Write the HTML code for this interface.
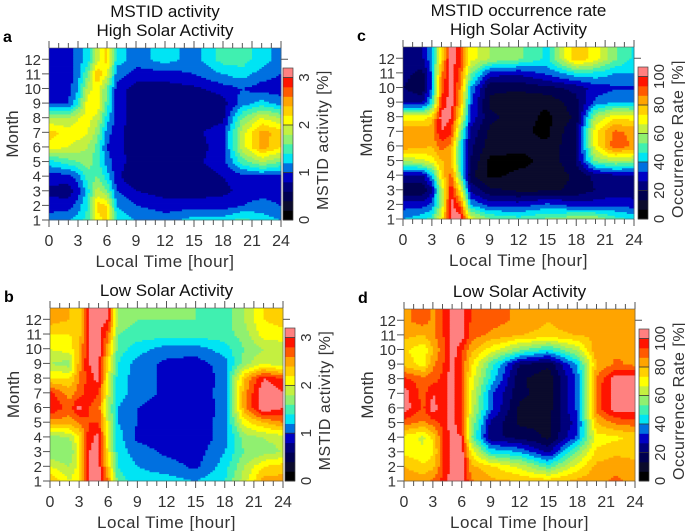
<!DOCTYPE html>
<html><head><meta charset="utf-8">
<style>
html,body{margin:0;padding:0;background:#fff;}
svg{display:block;font-family:"Liberation Sans",sans-serif;}
</style></head>
<body>
<svg id="fig" width="685" height="531" viewBox="0 0 685 531" xmlns="http://www.w3.org/2000/svg"></svg>
<script>
// ---- data ----
const hours = [0,2,3,4,5,6,7,9,12,15,18,20,22,24];
const months = [1,2,3,4,5,6,7,8,9,10,11,12];
const xTickLabels = ['0','3','6','9','12','15','18','21','24'];
const yTickLabels = ['1','2','3','4','5','6','7','8','9','10','11','12'];
const activityTicks = ['0','1','2','3'];
const rateTicks = ['0','20','40','60','80','100'];
// rows: month 1..12
const actHigh = [
[1.1,1.2,1.3,1.5,2.1,2.3,1.4,1.2,1.1,1.3,1.3,1.5,1.3,1.2],
[0.9,0.9,1.1,1.4,2.3,2.2,1.2,1.0,0.9,0.9,0.9,1.0,1.1,1.0],
[0.75,0.7,0.9,1.3,1.9,1.6,1.0,0.8,0.7,0.7,0.75,0.85,0.9,0.9],
[0.9,0.9,1.1,1.5,1.6,1.3,0.85,0.6,0.7,0.7,0.8,0.9,0.95,0.9],
[1.3,1.5,1.6,1.7,1.5,1.1,0.9,0.7,0.7,0.75,0.9,1.5,1.8,1.6],
[2.1,2.0,1.9,1.8,1.5,1.0,0.85,0.7,0.7,0.7,0.9,1.9,2.5,2.2],
[2.3,2.1,2.1,2.0,1.7,1.1,0.85,0.7,0.7,0.75,0.9,1.9,2.5,2.3],
[1.8,1.8,2.0,2.1,1.9,1.3,0.9,0.7,0.7,0.7,0.75,1.6,2.0,1.8],
[0.95,1.0,1.4,2.1,2.2,1.5,0.9,0.7,0.7,0.6,0.7,1.1,1.3,1.1],
[0.9,0.9,1.2,1.9,2.1,1.6,0.9,0.7,0.7,0.75,0.9,1.0,0.9,0.9],
[0.9,0.9,1.1,1.6,2.4,2.0,1.1,0.9,0.9,1.0,1.2,1.3,1.1,1.0],
[0.9,0.9,1.1,1.3,1.9,2.3,1.3,1.1,1.3,1.1,1.5,1.5,1.3,1.1]];
const actLow = [
[2.4,2.0,2.2,3.0,3.1,2.6,1.5,1.3,1.3,1.2,1.4,1.9,2.5,2.5],
[2.0,1.8,2.1,3.0,3.1,2.3,1.4,1.2,1.1,0.95,1.3,1.8,2.2,2.3],
[1.6,1.6,2.1,3.0,3.1,2.1,1.3,1.1,0.95,0.9,1.2,1.6,1.7,1.8],
[1.7,1.8,2.2,2.9,3.1,2.0,1.3,0.95,0.9,0.85,1.1,1.7,1.8,1.9],
[2.5,2.5,2.6,2.8,2.8,1.9,1.2,1.0,0.9,0.85,1.1,2.1,2.4,2.6],
[3.0,2.7,3.1,2.8,2.7,1.8,1.2,1.0,0.9,0.8,1.1,2.5,3.2,3.0],
[2.9,2.5,2.7,2.9,2.8,1.9,1.3,1.1,0.95,0.85,1.1,2.5,3.2,3.0],
[2.2,2.2,2.6,2.9,3.1,2.0,1.3,1.1,0.95,0.8,1.1,2.4,3.0,2.8],
[1.8,1.7,2.5,3.0,3.1,2.2,1.4,1.1,0.95,0.9,1.1,1.7,2.0,1.8],
[2.0,2.1,2.4,3.0,3.1,2.4,1.5,1.3,1.1,1.1,1.3,1.6,1.8,1.9],
[2.2,2.2,2.3,3.0,3.1,2.7,1.6,1.5,1.5,1.5,1.5,1.7,2.1,2.1],
[2.5,2.4,2.2,3.1,3.1,3.0,1.7,1.6,1.6,1.6,1.5,1.8,2.2,2.3]];
const rateHigh = [
[40,45,50,70,104,104,70,55,50,55,60,60,50,45],
[30,30,35,60,104,90,40,30,30,35,30,30,32,30],
[15,15,25,60,100,70,25,15,12,12,15,20,22,22],
[25,25,40,75,90,50,15,5,8,8,15,22,25,25],
[60,65,70,80,80,45,20,5,5,8,20,55,60,58],
[85,82,80,90,85,45,22,10,8,8,20,70,92,85],
[85,85,85,100,95,55,25,12,8,5,20,72,88,85],
[70,70,75,104,100,70,32,15,10,5,15,60,72,70],
[25,25,45,95,104,80,35,12,8,8,18,35,40,40],
[20,15,35,90,104,85,40,15,15,18,22,30,32,32],
[22,18,35,85,104,90,55,30,28,35,45,45,40,40],
[25,25,40,75,104,95,70,60,55,45,80,70,55,45]];
const rateLow = [
[85,85,88,95,104,104,88,82,80,78,82,85,88,85],
[80,75,78,92,104,104,82,75,65,50,70,82,85,82],
[72,68,72,92,104,104,72,45,40,25,55,75,78,78],
[70,65,75,92,104,100,55,22,18,12,35,70,72,75],
[90,85,90,95,104,92,60,25,12,12,30,80,88,90],
[104,92,104,95,104,92,65,35,12,10,35,90,104,104],
[104,90,100,95,104,92,68,35,15,10,35,90,104,104],
[95,90,90,95,104,92,70,45,15,8,35,88,104,104],
[78,70,85,92,104,92,75,50,20,15,40,80,88,85],
[75,68,80,90,104,95,82,70,55,45,62,85,85,85],
[82,80,85,92,104,104,90,85,80,78,80,82,85,82],
[85,90,85,92,104,104,92,90,85,80,85,82,82,85]];

const bandColors = ['#000000','#0b0b2c','#000050','#00007c','#0000c4','#0070e0','#00e4f4','#40f0b0','#90f070','#c4f040','#ffff00','#ffd000','#ffa400','#ff5a00','#ff1400','#ff8080'];

const NS='http://www.w3.org/2000/svg';
const svg=document.getElementById('fig');
function el(tag,attrs,parent,text){const e=document.createElementNS(NS,tag);for(const k in attrs)e.setAttribute(k,attrs[k]);if(text!==undefined)e.textContent=text;(parent||svg).appendChild(e);return e;}

function interp(grid,h,m){
  let mm=Math.min(12,Math.max(1,m));
  let r0=Math.floor(mm)-1; if(r0>=11)r0=10; const fr=mm-1-r0;
  let c0=0; while(c0<hours.length-2 && h>hours[c0+1]) c0++;
  const fc=(h-hours[c0])/(hours[c0+1]-hours[c0]);
  const a=grid[r0][c0]*(1-fc)+grid[r0][c0+1]*fc;
  const b=grid[r0+1][c0]*(1-fc)+grid[r0+1][c0+1]*fc;
  return a*(1-fr)+b*fr;
}

const panels=[
 {id:'a',grid:actHigh,step:0.2,x0:49,x1:281,yT:48,yB:220,cbX:283,cbT:68,title1:'MSTID activity',title2:'High Solar Activity',cbLabel:'MSTID activity  [%]',ticks:activityTicks,tickStep:1},
 {id:'c',grid:rateHigh,step:100/15,x0:403,x1:634,yT:47,yB:219,cbX:638,cbT:67,title1:'MSTID occurrence rate',title2:'High Solar Activity',cbLabel:'Occurrence Rate  [%]',ticks:rateTicks,tickStep:20},
 {id:'b',grid:actLow,step:0.2,x0:50,x1:283,yT:308,yB:481,cbX:285,cbT:328,title1:null,title2:'Low Solar Activity',cbLabel:'MSTID activity  [%]',ticks:activityTicks,tickStep:1},
 {id:'d',grid:rateLow,step:100/15,x0:404,x1:635,yT:309,yB:481,cbX:639,cbT:329,title1:null,title2:'Low Solar Activity',cbLabel:'Occurrence Rate  [%]',ticks:rateTicks,tickStep:20}
];

panels.forEach(p=>{
  const g=el('g',{});
  const mTop=12.77;
  const xs=h=>p.x0+(p.x1-p.x0)*h/24;
  const ys=m=>p.yB-(p.yB-p.yT)*(m-1)/(mTop-1);
  const band=v=>Math.max(0,Math.min(15,Math.floor(v/p.step)));
  const heat=el('g',{},g);
  const nx=96, dm=0.125;
  for(let m=1;m<mTop;m+=dm){
    const yTop=ys(Math.min(mTop,m+dm)), yBot=ys(m);
    let runStart=0, runBand=band(interp(p.grid,0.125,m+dm/2));
    for(let i=1;i<=nx;i++){
      const b=i<nx?band(interp(p.grid,(i+0.5)*24/nx,m+dm/2)):-1;
      if(b!==runBand){
        const r=el('rect',{x:xs(runStart*24/nx).toFixed(2),y:yTop.toFixed(2),width:(xs(i*24/nx)-xs(runStart*24/nx)+0.4).toFixed(2),height:(yBot-yTop+0.4).toFixed(2),fill:bandColors[runBand]},heat);
        
        
        runStart=i; runBand=b;
      }
    }
  }
  el('rect',{x:p.x0,y:p.yT,width:p.x1-p.x0,height:p.yB-p.yT,fill:'none',stroke:'#555','stroke-width':0.6,},g);
  const ax=el('g',{stroke:'#555','stroke-width':1,},g);
  for(let h=0;h<=24;h++){
    const x=xs(h), len=(h%3===0)?7:5;
    el('line',{x1:x,y1:p.yB,x2:x,y2:p.yB+len},ax);
    el('line',{x1:x,y1:p.yT,x2:x,y2:p.yT-len},ax);
  }
  months.forEach(m=>{const y=ys(m);el('line',{x1:p.x0-7,y1:y,x2:p.x0,y2:y},ax);});
  el('line',{x1:p.x1,y1:ys(12),x2:p.x1+7,y2:ys(12)},ax);
  const xl=el('g',{'font-size':16,fill:'#333','text-anchor':'middle'},g);
  xTickLabels.forEach((t,i)=>el('text',{x:xs(i*3),y:p.yB+26},xl,t));
  const yl=el('g',{'font-size':15,fill:'#333','text-anchor':'end'},g);
  yTickLabels.forEach((t,i)=>el('text',{x:p.x0-8,y:ys(months[i])+5.5},yl,t));
  const cx=(p.x0+p.x1)/2;
  el('text',{x:cx,y:p.yB+47,'font-size':17,fill:'#333','text-anchor':'middle','letter-spacing':'0.5'},g,'Local Time [hour]');
  el('text',{x:p.x0-31,y:(p.yT+p.yB)/2,'font-size':17,fill:'#333','text-anchor':'middle',transform:`rotate(-90 ${p.x0-31} ${(p.yT+p.yB)/2})`,},g,'Month');
  if(p.title1) el('text',{x:cx,y:p.yT-31,'font-size':17,fill:'#111','text-anchor':'middle',},g,p.title1);
  el('text',{x:cx,y:p.yT-12,'font-size':17,fill:'#111','text-anchor':'middle',},g,p.title2);
  el('text',{x:p.x0-46,y:p.yT-6,'font-size':16,'font-weight':'bold',fill:'#000',},g,p.id);
  const cb=el('g',{},g);
  const cbH=p.yB-p.cbT, bh=cbH/16;
  bandColors.forEach((c,i)=>{
    const r=el('rect',{x:p.cbX,y:(p.yB-(i+1)*bh).toFixed(2),width:10,height:(bh+0.3).toFixed(2),fill:c},cb);
    
    
  });
  el('rect',{x:p.cbX,y:p.cbT,width:10,height:cbH,fill:'none',stroke:'#444','stroke-width':0.7},cb);
  p.ticks.forEach((t,i)=>{
    const v=i*p.tickStep, y=p.yB-cbH*(v/p.step)/16;
    el('line',{x1:p.cbX,y1:y,x2:p.cbX+10,y2:y,stroke:'#333','stroke-width':0.8},cb);
    el('text',{x:p.cbX+26,y:y,'font-size':15,fill:'#333','text-anchor':'middle',transform:`rotate(-90 ${p.cbX+26} ${y})`},cb,t);
  });
  const ly=(p.cbT+p.yB)/2-4;
  el('text',{x:p.cbX+45,y:ly,'font-size':16,fill:'#333','text-anchor':'middle',transform:`rotate(-90 ${p.cbX+45} ${ly})`,'letter-spacing':'0.5'},cb,p.cbLabel);
});
</script>
</body></html>
